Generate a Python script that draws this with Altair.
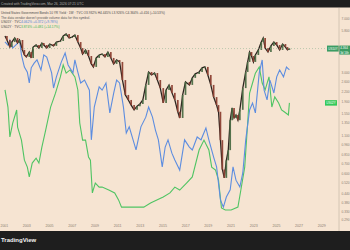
import altair as alt
import pandas as pd

FONT = "Liberation Sans"

# ---------------- data ----------------
# US 10Y yield (candles, sampled closes)
c_year = [2001.12, 2001.29, 2001.55, 2001.72, 2001.98, 2002.23, 2002.40, 2002.66, 2002.83, 2003.00,
          2003.26, 2003.43, 2003.60, 2003.86, 2004.11, 2004.37, 2004.54, 2004.80, 2005.06, 2005.40,
          2005.65, 2006.00, 2006.25, 2006.51, 2006.77, 2007.02, 2007.28, 2007.54, 2007.79, 2007.96,
          2008.22, 2008.48, 2008.73, 2008.91, 2009.16, 2009.42, 2009.68, 2009.93, 2010.19, 2010.45,
          2010.70, 2010.96, 2011.22, 2011.47, 2011.73, 2011.99, 2012.24, 2012.50, 2012.76, 2013.01,
          2013.27, 2013.53, 2013.78, 2014.04, 2014.30, 2014.55, 2014.81, 2015.07, 2015.32, 2015.58,
          2015.84, 2016.09, 2016.35, 2016.52, 2016.78, 2017.03, 2017.38, 2017.63, 2017.89, 2018.23,
          2018.49, 2018.74, 2019.00, 2019.26, 2019.51, 2019.77, 2019.94, 2020.11, 2020.28, 2020.45,
          2020.63, 2020.80, 2020.97, 2021.14, 2021.31, 2021.48, 2021.65, 2021.82, 2022.08, 2022.34,
          2022.51, 2022.68, 2022.85, 2023.02, 2023.19, 2023.45, 2023.71, 2023.88, 2024.05, 2024.30,
          2024.56, 2024.82, 2025.07, 2025.33, 2025.59, 2025.84, 2026.02, 2026.19]
c_close = [5.33, 5.00, 4.47, 4.84, 5.16, 4.77, 5.00, 4.27, 3.94, 3.82,
           4.13, 3.76, 4.47, 4.62, 4.40, 4.77, 4.62, 4.40, 4.69, 4.55,
           4.84, 4.92, 5.33, 5.50, 5.16, 5.24, 5.41, 4.84, 4.40, 4.00,
           4.27, 3.88, 3.42, 3.26, 3.76, 3.94, 4.00, 3.82, 4.13, 3.76,
           3.42, 3.64, 3.53, 2.65, 2.09, 1.93, 1.78, 1.65, 1.75, 1.81,
           1.93, 2.45, 3.01, 2.87, 2.96, 2.65, 2.33, 1.84, 2.26, 2.45,
           2.16, 1.93, 1.60, 1.45, 2.09, 2.57, 2.45, 2.74, 2.92, 3.01,
           3.21, 3.26, 2.87, 2.45, 2.02, 1.78, 1.60, 1.02, 0.64, 0.56,
           0.74, 0.87, 1.40, 1.70, 1.45, 1.52, 1.40, 1.65, 2.33, 3.01,
           3.53, 4.13, 3.88, 3.53, 3.94, 4.27, 4.84, 5.16, 4.40, 4.13,
           4.55, 4.84, 4.62, 4.27, 4.69, 4.47, 4.27, 4.364]

# US 5Y yield (blue line)
b_year = [2001.12, 2001.38, 2001.55, 2001.80, 2002.15, 2002.40, 2002.57, 2002.83, 2003.09, 2003.26,
          2003.43, 2003.69, 2003.94, 2004.29, 2004.54, 2004.80, 2005.23, 2005.40, 2005.65, 2006.08,
          2006.42, 2006.68, 2007.11, 2007.28, 2007.54, 2007.79, 2008.13, 2008.56, 2008.73, 2008.99,
          2009.42, 2009.68, 2010.02, 2010.36, 2010.70, 2010.96, 2011.22, 2011.56, 2011.81, 2012.07,
          2012.41, 2012.67, 2013.10, 2013.53, 2013.78, 2014.12, 2014.38, 2014.64, 2014.98, 2015.24,
          2015.49, 2015.83, 2016.09, 2016.52, 2016.95, 2017.37, 2017.63, 2018.06, 2018.40, 2018.83,
          2019.09, 2019.51, 2019.77, 2020.11, 2020.37, 2020.63, 2020.97, 2021.22, 2021.48, 2021.82,
          2022.08, 2022.34, 2022.68, 2022.94, 2023.19, 2023.53, 2023.79, 2023.96, 2024.22, 2024.47,
          2024.82, 2025.07, 2025.33, 2025.67, 2025.93, 2026.19]
b_val = [4.84, 4.75, 4.89, 4.67, 4.78, 4.89, 4.48, 4.14, 4.00, 3.70,
         4.12, 4.25, 4.34, 4.06, 4.48, 4.42, 3.98, 3.56, 3.87, 4.28,
         4.53, 4.20, 3.98, 4.34, 4.00, 3.70, 3.78, 3.50, 2.12, 3.03,
         3.59, 3.50, 3.70, 2.87, 3.42, 3.78, 3.70, 3.03, 2.31, 2.48,
         2.12, 1.84, 2.48, 2.75, 3.03, 2.75, 2.39, 2.12, 1.37, 1.92,
         2.12, 1.75, 1.56, 1.28, 2.12, 1.92, 1.84, 2.20, 2.12, 2.45,
         2.12, 1.64, 1.37, 0.45, 0.25, 0.53, 0.73, 1.37, 1.00, 0.81,
         1.20, 2.12, 2.95, 3.14, 2.87, 3.98, 4.34, 3.50, 3.23, 3.78,
         3.42, 3.87, 4.06, 3.87, 4.14, 4.062]

# US 2Y yield (green line)
g_year = [2001.12, 2001.38, 2001.55, 2001.80, 2002.15, 2002.23, 2002.57, 2002.83, 2003.09, 2003.26,
          2003.52, 2003.86, 2004.11, 2004.37, 2004.71, 2005.14, 2005.57, 2006.00, 2006.25, 2006.51,
          2006.85, 2007.28, 2007.54, 2007.71, 2007.96, 2008.22, 2008.48, 2008.65, 2008.82, 2009.08,
          2009.42, 2009.68, 2010.27, 2010.79, 2011.13, 2011.39, 2011.99, 2012.50, 2013.35, 2013.95,
          2014.55, 2015.07, 2015.66, 2016.09, 2016.52, 2017.12, 2017.63, 2018.23, 2018.66, 2019.09,
          2019.34, 2019.68, 2019.94, 2020.20, 2020.54, 2021.05, 2021.65, 2021.91, 2022.25, 2022.51,
          2022.68, 2022.94, 2023.19, 2023.53, 2023.79, 2024.05, 2024.39, 2024.64, 2024.90, 2025.24,
          2025.50, 2025.76, 2026.10, 2026.19]
g_val = [4.32, 3.73, 2.70, 3.18, 3.63, 3.04, 2.59, 1.90, 1.66, 1.32,
         1.80, 1.97, 1.80, 2.35, 2.94, 3.73, 4.21, 4.77, 5.18, 4.90,
         5.01, 4.77, 4.32, 3.18, 2.59, 2.59, 2.01, 1.90, 0.77, 1.11,
         0.97, 0.97, 0.87, 0.77, 0.53, 0.28, 0.28, 0.28, 0.28, 0.42,
         0.53, 0.63, 0.77, 0.97, 0.87, 1.11, 1.32, 2.25, 2.59, 2.25,
         1.66, 1.56, 1.21, 0.25, 0.18, 0.18, 0.28, 0.87, 1.66, 3.18,
         4.21, 4.56, 4.90, 5.11, 4.56, 4.32, 4.77, 3.73, 4.08, 3.87,
         3.63, 3.56, 3.46, 3.874]

x_ticks = [2003, 2005, 2007, 2009, 2011, 2013, 2015, 2017, 2019, 2021, 2023, 2025, 2027, 2029]
y_ticks = [7.0, 5.8, 3.0, 2.6, 2.2, 1.9, 1.55, 1.35, 1.1, 0.96, 0.81, 0.7, 0.6, 0.52, 0.44, 0.38, 0.33, 0.29]

last_10y = 4.364
last_5y = 4.062
last_2y = 3.874

# ---------------- frames ----------------
cdf = pd.DataFrame({"year": c_year, "close": c_close})
cdf["open"] = cdf["close"].shift(1).fillna(cdf["close"].iloc[0])
cdf["dir"] = ["up" if c >= o else "down" for o, c in zip(cdf["open"], cdf["close"])]
bdf = pd.DataFrame({"year": b_year, "v": b_val})
gdf = pd.DataFrame({"year": g_year, "v": g_val})
one = pd.DataFrame({"k": [0]})

W, H = 339, 212
BG = "#f6e4d2"
DARK = "#1e1e1e"
LBL = "#8a7d71"

xs = alt.Scale(domain=[2001.12, 2030.12], nice=False, zero=False)
cs = alt.Scale(type="log", domain=[0.287, 8.31], nice=False)
bs = alt.Scale(domain=[-0.107, 5.782], nice=False, zero=False)
gs = alt.Scale(domain=[-0.164, 7.146], nice=False, zero=False)

x_axis = alt.Axis(values=x_ticks, format="d", labelFontSize=3.6, labelColor=LBL, labelFont=FONT,
                  ticks=False, domain=False, grid=False, labelPadding=3.5, title=None,
                  labelOverlap=False)
y_axis = alt.Axis(orient="right", values=y_ticks, format=".3f", labelFontSize=3.2, labelColor=LBL,
                  labelFont=FONT, ticks=False, domain=False, grid=False, labelPadding=2,
                  title=None, labelOverlap=False, labelAlign="left")


def txt(s, x, y, size=3.7, color="#555555", align="left", weight="normal"):
    return alt.Chart(pd.DataFrame({"t": [s]})).mark_text(
        align=align, baseline="middle", fontSize=size, color=color, font=FONT, fontWeight=weight
    ).encode(x=alt.value(x), y=alt.value(y), text="t:N")


def box(x1, x2, y1, y2, color):
    return alt.Chart(one).mark_rect(color=color).encode(
        x=alt.value(x1), x2=alt.value(x2), y=alt.value(y1), y2=alt.value(y2))


green = alt.Chart(gdf).mark_line(color="#4fc463", strokeWidth=1.1).encode(
    x=alt.X("year:Q", scale=xs, axis=x_axis), y=alt.Y("v:Q", scale=gs, axis=None))
blue = alt.Chart(bdf).mark_line(color="#5d8de0", strokeWidth=1.1).encode(
    x=alt.X("year:Q", scale=xs, axis=x_axis), y=alt.Y("v:Q", scale=bs, axis=None))
cline = alt.Chart(cdf).mark_line(color="#2e2520", strokeWidth=1.3).encode(
    x=alt.X("year:Q", scale=xs, axis=x_axis), y=alt.Y("close:Q", scale=cs, axis=None))
cbars = alt.Chart(cdf).mark_bar(size=1.7, opacity=0.95).encode(
    x=alt.X("year:Q", scale=xs, axis=x_axis),
    y=alt.Y("open:Q", scale=cs, axis=y_axis),
    y2="close:Q",
    color=alt.Color("dir:N", scale=alt.Scale(domain=["up", "down"], range=["#4b6b45", "#8c3f32"]),
                    legend=None))

pline = alt.Chart(pd.DataFrame({"v": [last_10y]})).mark_rule(
    color="#7fae88", strokeDash=[1, 2], strokeWidth=0.7, opacity=0.7).encode(
    x=alt.value(0), x2=alt.value(327), y=alt.Y("v:Q", scale=cs, axis=None))

tag10 = alt.Chart(pd.DataFrame({"v": [last_10y]})).mark_tick(
    orient="horizontal", size=12, thickness=6, color="#3b9c63", opacity=1).encode(
    x=alt.value(333), y=alt.Y("v:Q", scale=cs, axis=None))
tag10ax = alt.Chart(pd.DataFrame({"v": [last_10y]})).mark_tick(
    orient="horizontal", size=11, thickness=9, color="#3b9c63", opacity=1, yOffset=1.5).encode(
    x=alt.value(344.5), y=alt.Y("v:Q", scale=cs, axis=None))
tag10t = alt.Chart(pd.DataFrame({"v": [last_10y], "t": ["US10Y"]})).mark_text(
    fontSize=3.0, color="white", font=FONT, baseline="middle").encode(
    x=alt.value(333), y=alt.Y("v:Q", scale=cs, axis=None), text="t:N")
tag10v = alt.Chart(pd.DataFrame({"v": [last_10y], "t": ["4.364"]})).mark_text(
    fontSize=3.0, color="white", font=FONT, baseline="middle", align="left", dy=-1).encode(
    x=alt.value(340.3), y=alt.Y("v:Q", scale=cs, axis=None), text="t:N")
tag10c = alt.Chart(pd.DataFrame({"v": [last_10y], "t": ["3d 16h"]})).mark_text(
    fontSize=2.8, color="white", font=FONT, baseline="middle", align="left", dy=3.5).encode(
    x=alt.value(340.3), y=alt.Y("v:Q", scale=cs, axis=None), text="t:N")

tag2 = alt.Chart(pd.DataFrame({"v": [last_2y]})).mark_tick(
    orient="horizontal", size=12, thickness=5.5, color="#33c95a", opacity=1).encode(
    x=alt.value(331), y=alt.Y("v:Q", scale=gs, axis=None))
tag2t = alt.Chart(pd.DataFrame({"v": [last_2y], "t": ["US02Y"]})).mark_text(
    fontSize=3.0, color="white", font=FONT, baseline="middle").encode(
    x=alt.value(331), y=alt.Y("v:Q", scale=gs, axis=None), text="t:N")

sep = alt.Chart(one).mark_rule(color="#cdbcab", strokeWidth=0.8).encode(
    x=alt.value(339), y=alt.value(0), y2=alt.value(223))

top_bar = box(-5, 360, -10, -0.6, DARK)
bot_bar = box(-5, 360, 223, 250, DARK)

texts = [
    txt("Created with TradingView.com, Mar 26, 2026 07:21 UTC", 1, -4.3, 3.3, "#b0b0b0"),
    txt("United States Government Bonds 10 YR Yield · 1W · TVC   O3.932%  H4.445%  L3.926%  C4.364%  +0.416 (+10.53%)",
        1, 5, 3.2, "#4a4a4a"),
    txt("The data vendor doesn't provide volume data for this symbol.", 1, 9.5, 3.3, "#5a5a5a"),
    txt("US05Y · TVC", 1, 14, 3.3, "#4a4a4a"),
    txt("4.062%  +0.372 (+9.78%)", 21, 14, 3.3, "#4d7fd8"),
    txt("US02Y · TVC", 1, 18.5, 3.3, "#4a4a4a"),
    txt("3.874%  +0.481 (+14.17%)", 21, 18.5, 3.3, "#3fb556"),
    txt("2001", 0.5, 217.5, 3.4, LBL),
    txt("TradingView", 1, 232, 6.0, "#f2f2f2", weight="bold"),
]

chart = alt.layer(
    green, blue, cline, cbars, pline, tag10, tag10ax, tag10t, tag10v, tag10c, tag2, tag2t,
    sep, top_bar, bot_bar, *texts
).resolve_scale(y="independent").properties(
    width=W, height=H, autosize="none",
    padding={"left": 0, "top": 8, "right": 11, "bottom": 30},
    background=BG,
).configure_view(stroke=None)

chart.save("out.html", embed_options={"renderer": "svg", "actions": False})
